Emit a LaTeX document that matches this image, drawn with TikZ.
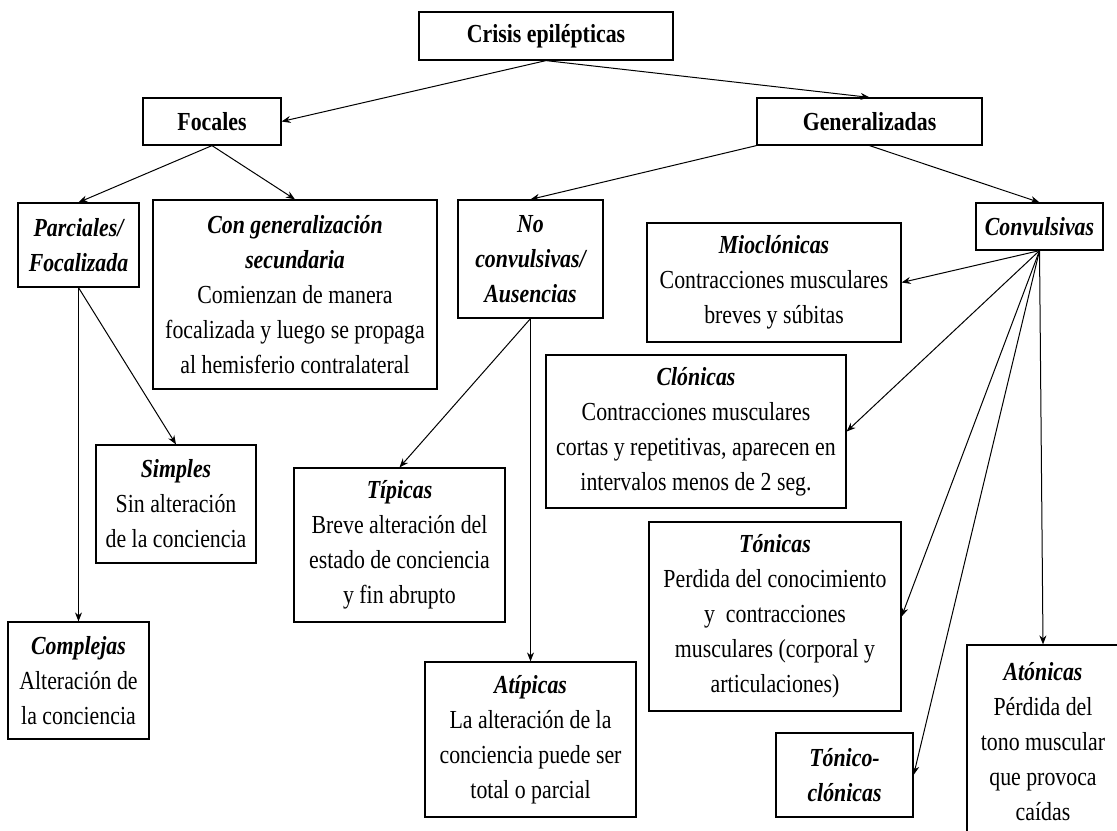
\documentclass[tikz,border=0pt]{standalone}
\usepackage{fontspec}
\setmainfont{Liberation Serif}[FakeStretch=0.84]
\usetikzlibrary{arrows.meta}

\newcommand{\titulo}[1]{{\bfseries\itshape #1}}

\begin{document}
\begin{tikzpicture}[
  x=0.5pt,
  y=-0.5pt, % <-- pixel grid, y runs down
  >={Stealth[length=4.5pt,width=3.5pt]},
  every node/.style={font=\fontsize{13}{17.5}\selectfont},
  box/.style={draw, line width=0.6pt, align=center, inner sep=0pt},
  head/.style={box, font=\fontsize{13}{17.5}\selectfont\bfseries\itshape},
  link/.style={->, line width=0.5pt}
]
\useasboundingbox (0,0) rectangle (1117,830);

% Top levels
\node[box, minimum width=127pt, minimum height=24pt] (crisis) at (546,36) {\textbf{Crisis epilépticas}};
\node[box, minimum width=69pt, minimum height=23.5pt] (focales) at (212,121.5) {\textbf{Focales}};
\node[box, minimum width=112.5pt, minimum height=23.5pt] (general) at (869.5,121.5) {\textbf{Generalizadas}};

% --- Focales branch ---
\node[head, minimum width=60.5pt, minimum height=42pt] (parciales) at (78.5,245) {Parciales/\\ Focalizada};
\node[box, minimum width=142pt, minimum height=94.5pt] (congen) at (295,294.5)
  {\titulo{Con generalización}\\ \titulo{secundaria}\\ Comienzan de manera\\ focalizada y luego se propaga\\ al hemisferio contralateral};
\node[box, minimum width=80pt, minimum height=59pt] (simples) at (176,504)
  {\titulo{Simples}\\ Sin alteración\\ de la conciencia};
\node[box, minimum width=70.5pt, minimum height=58.5pt] (complejas) at (78.5,680.5)
  {\titulo{Complejas}\\ Alteración de\\ la conciencia};

% --- Generalizadas branch ---
\node[head, minimum width=72.5pt, minimum height=59pt] (noconv) at (530.5,259) {No\\ convulsivas/\\ Ausencias};
\node[box, minimum width=105.5pt, minimum height=77pt] (tipicas) at (399.5,545)
  {\titulo{Típicas}\\ Breve alteración del\\ estado de conciencia\\ y fin abrupto};
\node[box, minimum width=105.5pt, minimum height=77.5pt] (atipicas) at (530.5,739.5)
  {\titulo{Atípicas}\\ La alteración de la\\ conciencia puede ser\\ total o parcial};

\node[head, minimum width=63.5pt, minimum height=23.5pt] (convul) at (1039.5,226.5) {Convulsivas};
\node[box, minimum width=127pt, minimum height=59.5pt] (mioclon) at (774,282.5)
  {\titulo{Mioclónicas}\\ Contracciones musculares\\ breves y súbitas};
\node[box, minimum width=150pt, minimum height=76.5pt] (clonic) at (696,431.5)
  {\titulo{Clónicas}\\ Contracciones musculares\\ cortas y repetitivas, aparecen en\\ intervalos menos de 2 seg.};
\node[box, minimum width=126pt, minimum height=94.5pt] (tonicas) at (775,616.5)
  {\titulo{Tónicas}\\ Perdida del conocimiento\\ y \ contracciones\\ musculares (corporal y\\ articulaciones)};
\node[head, minimum width=68.5pt, minimum height=42pt] (tonicoclon) at (844.5,775) {Tónico-\\ clónicas};
\node[box, minimum width=76pt, minimum height=97pt] (atonicas) at (1043,742)
  {\titulo{Atónicas}\\ Pérdida del\\ tono muscular\\ que provoca\\ caídas};

% Connectors
\draw[link] (crisis.south) -- (focales.east);
\draw[link] (crisis.south) -- (general.north);
\draw[link] (focales.south) -- (parciales.north);
\draw[link] (focales.south) -- (congen.north);
\draw[link] (general.south west) -- (noconv.north);
\draw[link] (general.south) -- (convul.north);
\draw[link] (parciales.south) -- (simples.north);
\draw[link] (parciales.south) -- (complejas.north);
\draw[link] (noconv.south) -- (tipicas.north);
\draw[link] (noconv.south) -- (atipicas.north);
\foreach \hijo in {mioclon,clonic,tonicas,tonicoclon}
  \draw[link] (convul.south) -- (\hijo.east);
\draw[link] (convul.south) -- (atonicas.north);

\end{tikzpicture}
\end{document}
